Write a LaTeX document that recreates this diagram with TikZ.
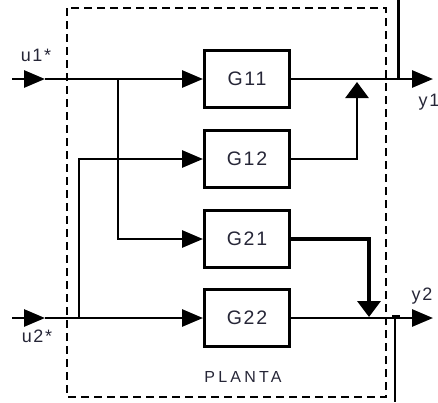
\documentclass[tikz,border=0pt]{standalone}
\usepackage{fontspec}
\setmainfont{Liberation Sans}
\usetikzlibrary{arrows.meta}
\definecolor{txt}{RGB}{38,38,55}
\begin{document}
\begin{tikzpicture}[x=1pt,y=-1pt,
  blk/.style={draw,line width=3pt,minimum width=85pt,minimum height=57pt,inner sep=0pt,
    font=\fontsize{19.5}{21}\selectfont\addfontfeature{LetterSpace=9},text=txt},
  lbl/.style={inner sep=0pt,text=txt,font=\fontsize{18}{19}\selectfont\addfontfeature{LetterSpace=9}},
  wire/.style={line width=2.8pt},
  harr/.style={wire,-{Triangle[length=21pt,width=17pt]}},
  varr/.style={wire,-{Triangle[length=16pt,width=23pt]}},
  frame/.style={line width=2.2pt,dash pattern=on 8pt off 5pt}]
\useasboundingbox (0,0) rectangle (438,402);
% dashed plant frame
\draw[frame] (67,8) rectangle (386,397);
% blocks
\node[blk] (g11) at (247,79) {G11};
\node[blk] (g12) at (247,159) {G12};
\node[blk] (g21) at (247,239) {G21};
\node[blk] (g22) at (247,318) {G22};
% coordinates
\coordinate (u1s) at (12,79);
\coordinate (u1a) at (45,79);
\coordinate (b1) at (118,79);
\coordinate (b1d) at (118,239);
\coordinate (u2s) at (12,318);
\coordinate (u2a) at (45,318);
\coordinate (b2) at (79,318);
\coordinate (b2u) at (79,159);
\coordinate (y1e) at (433,79);
\coordinate (y2e) at (433,318);
\coordinate (c12) at (357,159);
\coordinate (c12t) at (357,82);
\coordinate (c21) at (369,239);
\coordinate (c21t) at (369,317);
% inputs
\draw[harr] (u1s) -- (u1a);
\draw[harr] (u1a) -- (g11.west);
\draw[harr] (u2s) -- (u2a);
\draw[harr] (u2a) -- (g22.west);
\draw[harr] (b1) -- (b1d) -- (g21.west);
\draw[harr] (b2) -- (b2u) -- (g12.west);
% outputs
\draw[harr] (g11.east) -- (y1e);
\draw[harr] (g22.east) -- (y2e);
\draw[varr] (g12.east) -- (c12) -- (c12t);
\draw[varr,line width=3.5pt] (g21.east) -- (c21) -- (c21t);
% outer fragments
\coordinate (r1a) at (398,0);
\coordinate (r1b) at (398,79);
\draw[line width=3pt] (r1a) -- (r1b);
\coordinate (r2a) at (392,316);
\coordinate (r2b) at (400,316);
\coordinate (r2c) at (395,316);
\coordinate (r2d) at (395,402);
\draw[line width=2.5pt] (r2a) -- (r2b);
\draw[line width=2.5pt] (r2c) -- (r2d);
% labels
\node[lbl] (lu1) at (36,55) {u1*};
\node[lbl] (lu2) at (37,336) {u2*};
\node[lbl] (ly1) at (429,102) {y1};
\node[lbl] (ly2) at (422,296) {y2};
\node[lbl,font=\fontsize{16}{17}\selectfont\addfontfeature{LetterSpace=20}] (pl) at (243,377) {PLANTA};
\end{tikzpicture}
\end{document}
